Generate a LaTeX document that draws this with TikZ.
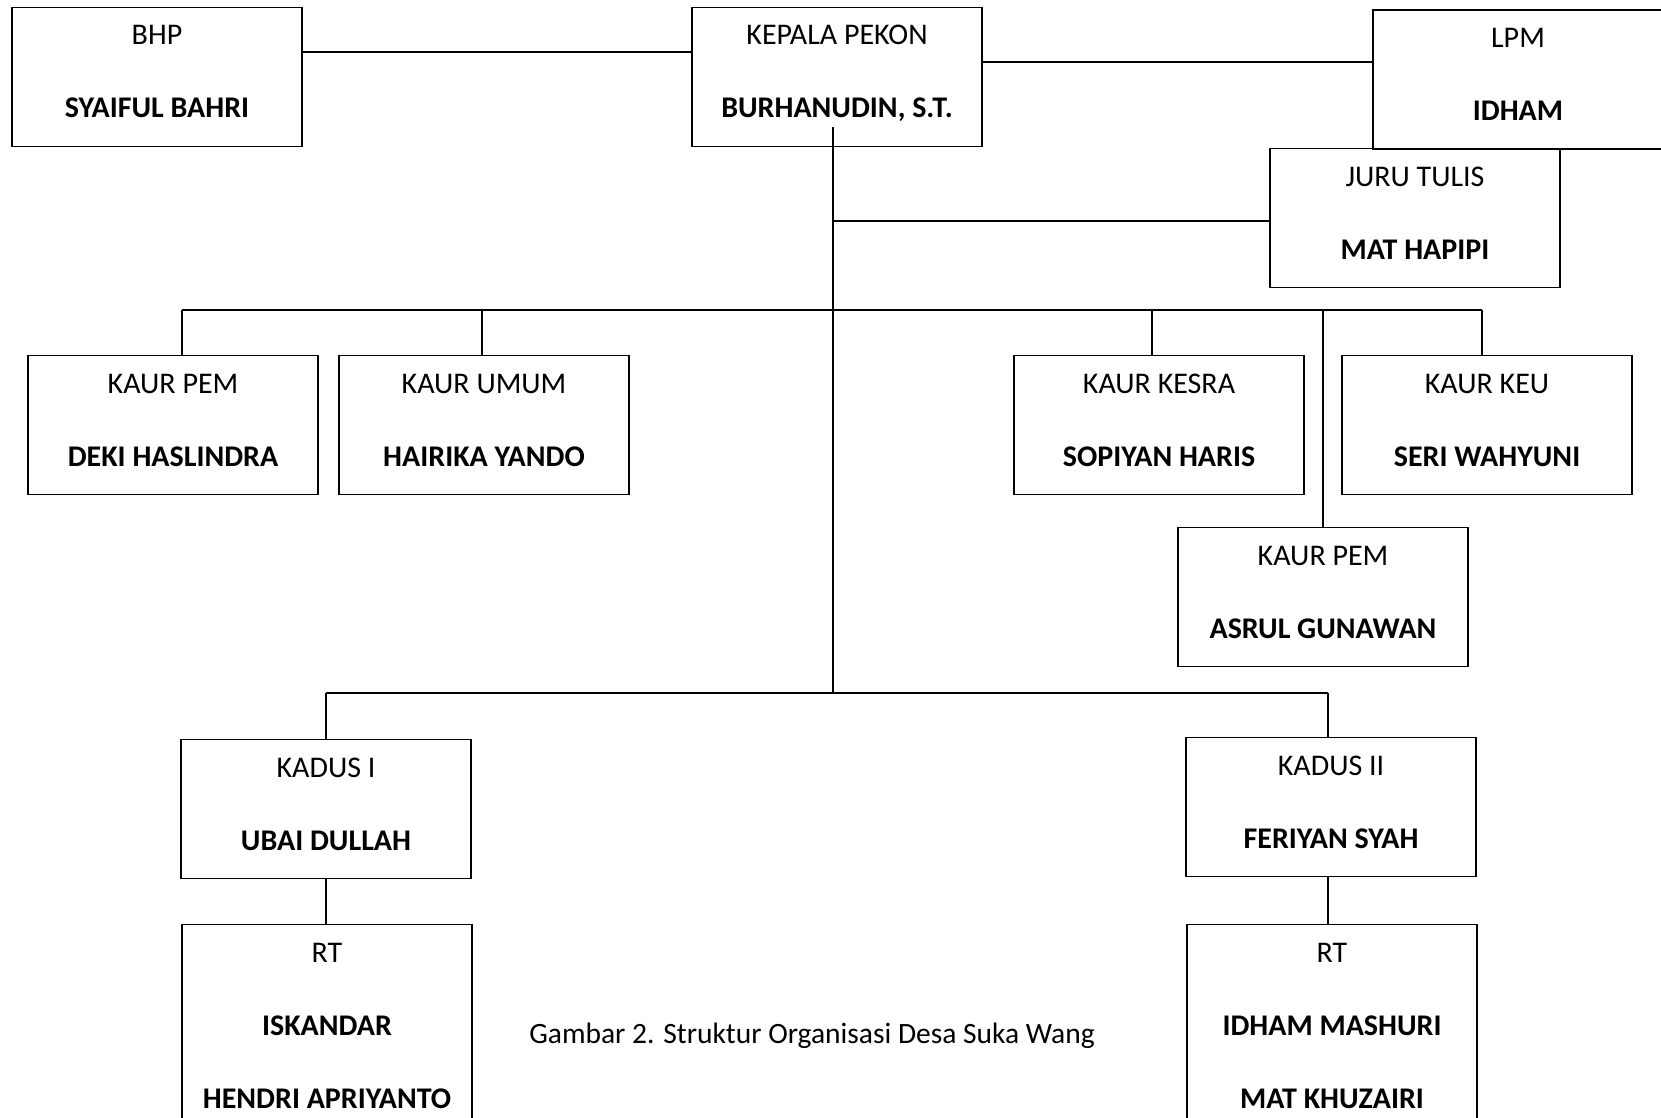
\documentclass[tikz,border=0pt]{standalone}
\usepackage{fontspec}
\setmainfont{Carlito}
\usetikzlibrary{calc}
\newcommand\obox[6][139pt]{%
  \node[box, minimum height=#1, anchor=north] (#2) at (#3,#4) {};
  \node[ttl] (#2-t) at ($(#2.north)+(0,38)$) {#5};
  \node[nm] (#2-n) at ($(#2.north)+(0,111)$) {#6};}
\begin{document}
\begin{tikzpicture}[x=1pt,y=-1pt,
  box/.style={draw, line width=1.3pt, minimum width=290pt, inner sep=0pt},
  ttl/.style={anchor=base, font=\fontsize{30}{32}\selectfont, inner sep=0pt},
  nm/.style={anchor=base, font=\fontsize{30}{32}\selectfont\bfseries, inner sep=0pt},
  captext/.style={anchor=base, font=\fontsize{29.5}{32}\selectfont, inner sep=0pt},
  conn/.style={line width=1.3pt}]
\clip (0,0) rectangle (1661,1118);
\fill[white] (0,0) rectangle (1661,1118);

% boxes
\obox{bhp}{157}{7}{BHP}{SYAIFUL BAHRI}
\obox{kepala}{837}{7}{KEPALA PEKON}{BURHANUDIN, S.T.}
\obox{lpm}{1518}{9.5}{LPM}{IDHAM}
\obox{juru}{1415}{148}{JURU TULIS}{MAT HAPIPI}
\obox{kpem}{173}{355}{KAUR PEM}{DEKI HASLINDRA}
\obox{kumum}{484}{355}{KAUR UMUM}{HAIRIKA YANDO}
\obox{kkesra}{1159}{355}{KAUR KESRA}{SOPIYAN HARIS}
\obox{kkeu}{1487}{355}{KAUR KEU}{SERI WAHYUNI}
\obox{kpemb}{1323}{527}{KAUR PEM}{ASRUL GUNAWAN}
\obox{kadusa}{326}{739}{KADUS I}{UBAI DULLAH}
\obox{kadusb}{1331}{737}{KADUS II}{FERIYAN SYAH}
\obox[230pt]{rta}{327}{924}{RT}{ISKANDAR}
\node[nm] (rta-m) at ($(rta.north)+(0,184)$) {HENDRI APRIYANTO};
\obox[230pt]{rtb}{1332}{924}{RT}{IDHAM MASHURI}
\node[nm] (rtb-m) at ($(rtb.north)+(0,184)$) {MAT KHUZAIRI};

\node[captext] (caption) at (812,1043) {Gambar 2. Struktur Organisasi Desa Suka Wang};

% helper coordinates
\coordinate (yb) at (0,52);
\coordinate (yl) at (0,62);
\coordinate (ktop) at (833,127);
\coordinate (yj) at (0,221);
\coordinate (bara) at (182,310);
\coordinate (barb) at (1482,310);
\coordinate (xumum) at (482,0);
\coordinate (xkesra) at (1152,0);
\coordinate (xpemb) at (1323,0);
\coordinate (barc) at (326,693);
\coordinate (bard) at (1328,693);

% connectors
\draw[conn] (bhp.east |- yb) -- (kepala.west |- yb);
\draw[conn] (kepala.east |- yl) -- (lpm.west |- yl);
\draw[conn] (ktop) -- (ktop |- barc);
\draw[conn] (ktop |- yj) -- (juru.west |- yj);
\draw[conn] (bara) -- (barb);
\draw[conn] (bara) -- (bara |- kpem.north);
\draw[conn] (xumum |- bara) -- (xumum |- kumum.north);
\draw[conn] (xkesra |- bara) -- (xkesra |- kkesra.north);
\draw[conn] (barb) -- (barb |- kkeu.north);
\draw[conn] (xpemb |- bara) -- (kpemb.north);
\draw[conn] (barc) -- (bard);
\draw[conn] (barc) -- (barc |- kadusa.north);
\draw[conn] (bard) -- (bard |- kadusb.north);
\draw[conn] (barc |- kadusa.south) -- (barc |- rta.north);
\draw[conn] (bard |- kadusb.south) -- (bard |- rtb.north);
\end{tikzpicture}
\end{document}
